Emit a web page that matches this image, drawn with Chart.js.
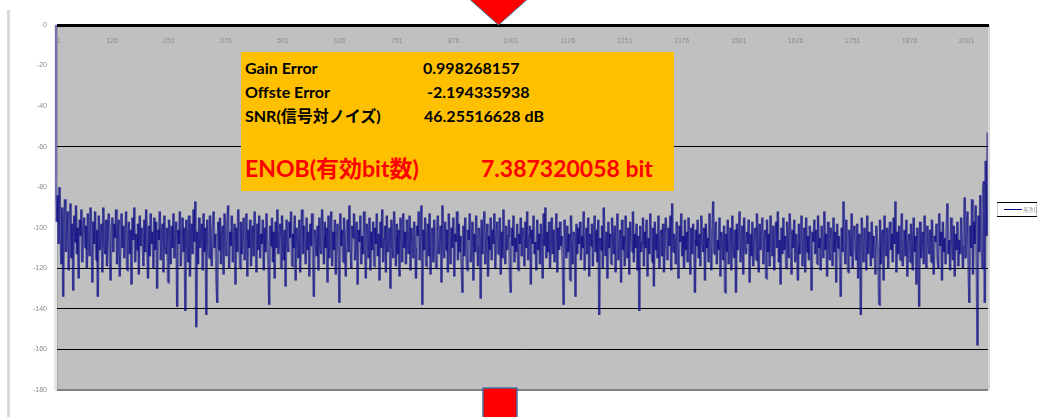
<!DOCTYPE html>
<html>
<head>
<meta charset="utf-8">
<script src="https://cdn.jsdelivr.net/npm/chart.js@4.4.1/dist/chart.umd.min.js"></script>
<style>
  html, body { margin: 0; padding: 0; background: #fff; overflow: hidden; }
  #wrap { position: relative; width: 1053px; height: 417px; }
  #wrap canvas { position: absolute; left: 0; top: 0; }
  .edge { position: absolute; left: 7px; top: 10px; width: 3px; height: 407px; background: #D9D9D9; }
  .info { position: absolute; left: 241px; top: 52px; width: 433px; height: 139px; background: #FFC000; }
  .t { position: absolute; white-space: nowrap; font-family: Lato, 'Noto Sans CJK JP', sans-serif; font-weight: 700; color: #000; font-size: 16px; line-height: 18px; }
  .t.big { color: #FF0000; font-size: 23px; line-height: 26px; }
  svg.mark { position: absolute; left: 0; top: 0; pointer-events: none; }
</style>
</head>
<body>
<div id="wrap">
  <div class="edge"></div>
  <canvas id="spectrum" width="1053" height="417"></canvas>
  <div class="info" id="info"></div>
  <svg class="mark" width="1053" height="417">
    <polygon points="466,-4 531,-4 498.5,25" fill="#FF0000" stroke="#41719C" stroke-width="1"/>
    <rect x="483" y="388" width="34" height="34" fill="#FF0000" stroke="#41719C" stroke-width="1.5"/>
  </svg>
</div>
<script>
// FFT bins are plotted every second bin, starting at bin 1
const firstBin = 1;
const binStep = 2;
const lastBin = 2048;

// magnitude of every plotted bin, dB
const spectrumDb = [
  0,-78,-97,-84,-108,-80,-99,-118,-90,-134,-96,-86,-112,-101,-92,-121,-105,-88,-115,-98,-131,-94,-107,-89,-113,-100,-125,-96,-104,-91,-117,-102,
  -95,-110,-99,-120,-93,-106,-114,-90,-103,-127,-97,-108,-92,-116,-101,-134,-94,-111,-105,-98,-122,-90,-107,-113,-96,-119,-103,-93,-109,-126,-100,-95,
  -112,-98,-105,-91,-118,-102,-96,-124,-107,-93,-110,-99,-115,-104,-92,-121,-108,-97,-113,-101,-128,-95,-106,-90,-117,-103,-111,-98,-123,-94,-109,-100,
  -104,-119,-96,-112,-91,-107,-125,-99,-114,-93,-108,-102,-120,-95,-111,-97,-130,-101,-106,-92,-116,-103,-98,-122,-94,-109,-113,-100,-127,-96,-105,-118,
  -99,-110,-93,-115,-104,-97,-139,-101,-108,-92,-119,-106,-95,-112,-100,-141,-96,-109,-117,-94,-124,-103,-98,-113,-91,-107,-87,-149,-102,-118,-95,-110,
  -105,-98,-121,-93,-112,-100,-143,-96,-108,-115,-94,-106,-119,-101,-92,-110,-103,-126,-137,-97,-111,-95,-118,-104,-99,-123,-93,-107,-114,-96,-89,-120,
  -102,-109,-94,-117,-105,-98,-128,-100,-112,-91,-106,-120,-97,-113,-103,-95,-116,-108,-93,-124,-101,-110,-96,-119,-104,-99,-114,-92,-107,-122,-98,-111,
  -94,-115,-103,-108,-96,-121,-100,-112,-93,-106,-118,-138,-99,-109,-95,-117,-102,-125,-97,-110,-91,-113,-105,-98,-120,-94,-107,-116,-101,-129,-96,-108,
  -112,-97,-105,-92,-119,-103,-110,-94,-126,-100,-108,-115,-96,-122,-104,-91,-113,-99,-107,-118,-95,-111,-102,-124,-98,-109,-93,-117,-134,-101,-106,-114,
  -99,-121,-95,-108,-113,-91,-104,-118,-97,-110,-100,-127,-94,-115,-106,-92,-119,-102,-111,-96,-123,-105,-98,-114,-137,-93,-109,-101,-117,-95,-107,-124,
  -103,-96,-112,-89,-108,-120,-99,-105,-93,-116,-110,-97,-128,-101,-107,-94,-118,-104,-113,-92,-109,-125,-98,-106,-115,-95,-121,-102,-111,-97,-119,-100,
  -108,-93,-114,-103,-126,-97,-110,-91,-117,-105,-99,-122,-94,-112,-107,-100,-130,-96,-109,-115,-92,-104,-119,-98,-113,-101,-124,-95,-106,-117,-93,-110,
  -102,-118,-96,-108,-113,-94,-121,-100,-107,-115,-97,-110,-125,-99,-104,-92,-116,-103,-89,-138,-101,-111,-95,-119,-106,-98,-114,-93,-123,-105,-100,-117,
  -96,-109,-120,-102,-94,-113,-106,-99,-127,-89,-108,-115,-97,-111,-101,-122,-93,-105,-118,-100,-110,-95,-124,-103,-107,-92,-116,-98,-112,-104,-120,-132,
  -99,-114,-95,-108,-121,-101,-106,-93,-117,-110,-97,-126,-103,-112,-94,-109,-119,-100,-105,-135,-96,-113,-102,-92,-118,-107,-98,-124,-104,-111,-95,-116,
  -101,-108,-93,-120,-106,-97,-113,-110,-95,-123,-102,-115,-91,-107,-118,-99,-111,-104,-96,-125,-132,-100,-109,-94,-117,-105,-112,-98,-121,-103,-108,-95,
  -114,-100,-106,-119,-97,-110,-92,-116,-104,-99,-128,-101,-108,-94,-113,-107,-121,-96,-111,-103,-118,-98,-105,-125,-93,-109,-90,-115,-102,-112,-97,-120,
  -106,-95,-113,-101,-117,-108,-93,-122,-100,-111,-97,-109,-104,-119,-138,-96,-107,-115,-99,-112,-103,-126,-94,-110,-118,-102,-105,-134,-98,-113,-100,-108,
  -97,-116,-104,-110,-92,-121,-107,-100,-113,-95,-124,-103,-109,-98,-119,-106,-94,-112,-101,-117,-96,-143,-105,-111,-99,-120,-90,-108,-114,-102,-125,-97,
  -110,-103,-118,-95,-107,-113,-99,-122,-105,-93,-116,-108,-101,-127,-96,-111,-104,-119,-94,-109,-115,-100,-123,-97,-106,-112,-92,-117,-103,-110,-98,-121,
  -104,-141,-99,-112,-107,-95,-119,-102,-110,-96,-124,-105,-113,-93,-108,-117,-100,-129,-97,-111,-103,-115,-94,-120,-106,-101,-114,-98,-122,-109,-95,-107,
  -116,-100,-109,-94,-121,-88,-112,-103,-106,-118,-97,-110,-125,-99,-107,-93,-114,-104,-120,-96,-111,-102,-117,-95,-108,-123,-100,-113,-98,-106,-132,-101,
  -109,-96,-115,-103,-119,-94,-107,-112,-100,-126,-98,-110,-105,-117,-93,-108,-121,-101,-87,-113,-104,-97,-118,-106,-111,-95,-124,-102,-108,-116,-99,-132,
  -103,-112,-96,-118,-107,-100,-121,-94,-109,-115,-101,-132,-98,-111,-104,-92,-117,-106,-99,-123,-95,-110,-113,-102,-108,-96,-127,-103,-114,-97,-119,-105,
  -100,-116,-93,-109,-122,-98,-111,-104,-95,-118,-107,-101,-125,-96,-112,-103,-119,-94,-108,-114,-99,-121,-105,-97,-110,-92,-117,-106,-128,-100,-113,-95,
  -111,-104,-120,-97,-108,-115,-93,-106,-123,-101,-110,-96,-117,-103,-109,-126,-98,-113,-105,-94,-119,-107,-100,-122,-95,-112,-104,-116,-99,-108,-131,-102,
  -107,-96,-113,-101,-118,-94,-110,-105,-121,-99,-108,-115,-92,-111,-103,-124,-97,-109,-116,-100,-106,-119,-95,-112,-102,-127,-98,-110,-104,-117,-134,-100,
  -112,-87,-104,-118,-96,-109,-122,-101,-107,-114,-93,-120,-105,-99,-111,-116,-98,-125,-103,-108,-143,-95,-110,-117,-100,-106,-121,-94,-113,-102,-109,-119,
  -97,-115,-104,-110,-123,-99,-107,-112,-138,-96,-118,-105,-101,-126,-94,-109,-114,-100,-120,-106,-97,-111,-103,-117,-95,-108,-87,-122,-102,-113,-99,-116,
  -105,-93,-119,-108,-101,-114,-96,-124,-110,-103,-117,-98,-107,-121,-95,-112,-104,-128,-100,-109,-139,-97,-115,-106,-102,-118,-94,-111,-120,-99,-108,-113,
  -101,-117,-96,-110,-123,-104,-107,-98,-115,-120,-93,-109,-102,-126,-97,-112,-105,-118,-100,-88,-113,-106,-121,-95,-108,-116,-99,-124,-103,-111,-97,-119,
  -106,-113,-95,-109,-120,-101,-85,-115,-104,-92,-118,-137,-99,-110,-86,-123,-97,-108,-89,-116,-158,-94,-112,-84,-103,-120,-80,-77,-137,-67,-104,-53
];

// category labels along the top axis and value-axis ticks
const xTickLabels = [1, 126, 251, 376, 501, 626, 751, 876, 1001, 1126, 1251, 1376, 1501, 1626, 1751, 1876, 2001];
const yMin = -180, yMax = 0, yStep = 20;
const gridBlack = [-60, -120, -140, -160];
const seriesName = '系列1';

// figures shown in the results panel
const resultRows = [
  { label: 'Gain Error', value: '0.998268157', valueX: 423, y: 59 },
  { label: 'Offste Error', value: '-2.194335938', valueX: 427, y: 83 },
  { label: 'SNR(信号対ノイズ)', value: '46.25516628 dB', valueX: 424, y: 107 }
];
const enobRow = { label: 'ENOB(有効bit数)', value: '7.387320058 bit', valueX: 481, y: 155 };

const info = document.getElementById('info');
function addText(text, x, y, big) {
  const el = document.createElement('div');
  el.className = big ? 't big' : 't';
  el.textContent = text;
  el.style.left = (x - 241) + 'px';
  el.style.top = (y - 52) + 'px';
  info.appendChild(el);
}
resultRows.forEach(r => { addText(r.label, 245, r.y, false); addText(r.value, r.valueX, r.y, false); });
addText(enobRow.label, 245, enobRow.y, true);
addText(enobRow.value, enobRow.valueX, enobRow.y, true);

const points = spectrumDb.map((v, i) => ({ x: firstBin + i * binStep, y: v }));

const plotBackground = {
  id: 'plotBackground',
  beforeDraw(chart) {
    const { ctx, chartArea: a } = chart;
    ctx.save();
    ctx.fillStyle = '#C0C0C0';
    ctx.fillRect(a.left, a.top, a.right - a.left, a.bottom - a.top);
    ctx.fillStyle = '#A6A6A6';
    ctx.fillRect(a.left, a.top, 3, a.bottom - a.top);
    ctx.fillStyle = '#D6D6D6';
    ctx.fillRect(a.right, a.top, 2, a.bottom - a.top);
    ctx.restore();
  }
};

// category labels sit just inside the plot, below the top axis line
const topAxisLabels = {
  id: 'topAxisLabels',
  afterDraw(chart) {
    const { ctx } = chart;
    const xs = chart.scales.x;
    ctx.save();
    ctx.fillStyle = '#8C8C8C';
    ctx.font = '7px "Liberation Sans"';
    ctx.textAlign = 'center';
    ctx.textBaseline = 'middle';
    xs.ticks.forEach(t => {
      const px = xs.getPixelForValue(t.value);
      ctx.fillText(String(t.value), t.value === firstBin ? px + 4 : px, chart.chartArea.top + 16);
    });
    ctx.restore();
  }
};

const seriesKey = {
  id: 'seriesKey',
  afterDraw(chart) {
    const { ctx } = chart;
    const ds = chart.data.datasets[0];
    const x0 = 997, y0 = 202, w = 40, h = 15;
    ctx.save();
    ctx.fillStyle = '#FFFFFF';
    ctx.fillRect(x0, y0, w, h);
    ctx.strokeStyle = '#C8C8C8';
    ctx.lineWidth = 1;
    ctx.strokeRect(x0 + 0.5, y0 + 0.5, w - 1, h - 1);
    ctx.strokeStyle = '#000000';
    ctx.beginPath();
    ctx.moveTo(x0, y0 + 0.5); ctx.lineTo(x0 + w, y0 + 0.5);
    ctx.moveTo(x0, y0 + h - 0.5); ctx.lineTo(x0 + w, y0 + h - 0.5);
    ctx.stroke();
    ctx.strokeStyle = '#000080';
    ctx.beginPath();
    ctx.moveTo(x0 + 7, y0 + 7.5); ctx.lineTo(x0 + 25, y0 + 7.5);
    ctx.stroke();
    ctx.fillStyle = '#9A9A9A';
    ctx.font = '6px "Noto Sans CJK JP"';
    ctx.textBaseline = 'middle';
    ctx.fillText(ds.label, x0 + 26, y0 + 8);
    ctx.restore();
  }
};

new Chart(document.getElementById('spectrum'), {
  type: 'line',
  data: {
    datasets: [{
      label: seriesName,
      data: points,
      borderColor: 'rgba(0, 0, 128, 0.5)',
      borderWidth: 2.4,
      // each segment is stroked on its own so overlapping strokes build up a dark core
      segment: {
        borderColor: c => c.p0DataIndex % 2 ? 'rgba(0, 0, 128, 0.5)' : 'rgba(0, 0, 130, 0.5)'
      },
      pointRadius: 0,
      tension: 0,
      fill: false
    }]
  },
  options: {
    responsive: false,
    animation: false,
    events: [],
    layout: { padding: { left: 0, top: 25, right: 65, bottom: 27 } },
    plugins: { legend: { display: false }, tooltip: { enabled: false } },
    scales: {
      x: {
        type: 'linear',
        position: 'top',
        min: firstBin,
        max: lastBin,
        afterBuildTicks(scale) { scale.ticks = xTickLabels.map(v => ({ value: v })); },
        afterFit(scale) { scale.height = 0; },
        grid: { display: true, drawOnChartArea: false, drawTicks: false },
        border: { display: true, color: '#000000', width: 3, dash: [7, 1] },
        ticks: { display: false }
      },
      y: {
        min: yMin,
        max: yMax,
        afterFit(scale) { scale.width = 55; },
        grid: {
          drawTicks: false,
          color: c => c.tick.value === yMin ? '#808080' : (gridBlack.includes(c.tick.value) ? '#000000' : 'rgba(0,0,0,0)'),
          lineWidth: c => c.tick.value === yMin ? 2 : 1
        },
        border: { display: true, color: '#E6E6E6', width: 3 },
        ticks: {
          stepSize: yStep, padding: 8,
          color: '#8C8C8C', font: { family: 'Liberation Sans', size: 7 }
        }
      }
    }
  },
  plugins: [plotBackground, topAxisLabels, seriesKey]
});
</script>
</body>
</html>
